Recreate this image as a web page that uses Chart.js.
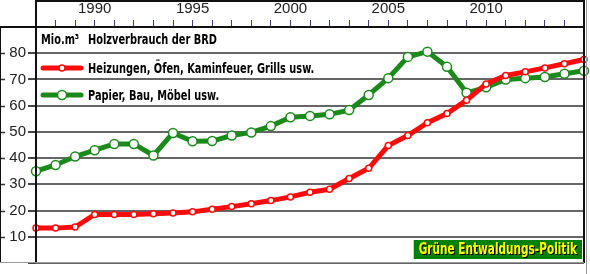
<!DOCTYPE html>
<html>
<head>
<meta charset="utf-8">
<title>Holzverbrauch der BRD</title>
<script src="https://cdn.jsdelivr.net/npm/chart.js@4"></script>
<style>
  html, body { margin: 0; padding: 0; background: #fff; }
  canvas { display: block; }
</style>
</head>
<body>
<canvas id="woodChart" width="590" height="274"></canvas>
<script>
// Years on the top axis
const years = [
  1987, 1988, 1989, 1990, 1991, 1992, 1993, 1994, 1995, 1996,
  1997, 1998, 1999, 2000, 2001, 2002, 2003, 2004, 2005, 2006,
  2007, 2008, 2009, 2010, 2011, 2012, 2013, 2014, 2015
];

// Mio. m³ - heating, stoves, fireplaces, grills
const heating = [
  13.3, 13.3, 13.7, 18.5, 18.5, 18.5, 18.8, 19.1, 19.5, 20.5,
  21.5, 22.6, 23.8, 25.2, 27.0, 28.1, 32.2, 36.1, 44.8, 48.6,
  53.5, 57.0, 62.1, 68.3, 71.5, 72.9, 74.4, 76.0, 77.6
];

// Mio. m³ - paper, construction, furniture
const material = [
  35.0, 37.4, 40.6, 43.0, 45.4, 45.4, 41.0, 49.6, 46.4, 46.5,
  48.6, 49.8, 52.2, 55.6, 56.1, 56.7, 58.3, 64.1, 70.5, 78.6,
  80.6, 74.8, 64.9, 67.0, 70.0, 70.5, 70.9, 72.2, 73.3
];

const labelYears = [1990, 1995, 2000, 2005, 2010];
const valueTicks = [10, 20, 30, 40, 50, 60, 70, 80];

const seriesNames = ["Heizungen, Öfen, Kaminfeuer, Grills usw.", "Papier, Bau, Möbel usw."];
const titleUnit = "Mio.m³";
const titleText = "Holzverbrauch der BRD";
const badgeText = "Grüne Entwaldungs-Politik";

const RED = "#ff0a0a";
const GREEN = "#1a8a1a";
const LEGEND_FONT = "bold 14px 'DejaVu Sans Condensed', 'DejaVu Sans', Arial, sans-serif";
const SQUEEZE = 0.78; // the original lettering is narrower than any installed font

// draw text squeezed horizontally
function narrowText(ctx, text, x, y) {
  ctx.save();
  ctx.translate(x, y);
  ctx.scale(SQUEEZE, 1);
  ctx.fillText(text, 0, 0);
  ctx.restore();
}

/* ================================
   Frame, legend and badge plugin
================================ */
const decorPlugin = {
  id: "decor",
  beforeDatasetsDraw(chart) {
    const { ctx, scales } = chart;
    ctx.save();
    // little dashes at the left edge for each value tick
    ctx.strokeStyle = "#333";
    ctx.lineWidth = 1.5;
    valueTicks.forEach((v) => {
      const y = Math.round(scales.y.getPixelForValue(v)) + 0.5;
      ctx.beginPath();
      ctx.moveTo(0, y);
      ctx.lineTo(5, y);
      ctx.stroke();
    });
    ctx.restore();
  },
  afterDraw(chart) {
    const { ctx, chartArea: a, height } = chart;
    ctx.save();

    // frame
    ctx.strokeStyle = "#111";
    ctx.lineWidth = 2;
    ctx.beginPath();
    ctx.moveTo(a.left, 1); ctx.lineTo(a.right + 1, 1);            // top of year band
    ctx.moveTo(0, a.top); ctx.lineTo(a.right + 1, a.top);         // top of plot
    ctx.moveTo(a.left, 0); ctx.lineTo(a.left, a.bottom);          // y axis
    ctx.moveTo(a.right, 0); ctx.lineTo(a.right, a.bottom);        // right edge
    ctx.stroke();
    ctx.lineWidth = 1;
    ctx.beginPath();
    ctx.moveTo(0.5, a.top); ctx.lineTo(0.5, a.bottom);
    ctx.stroke();
    ctx.strokeStyle = "#999";
    ctx.beginPath();
    ctx.moveTo(a.right + 2.5, 0); ctx.lineTo(a.right + 2.5, height);
    ctx.moveTo(0, a.bottom - 0.5); ctx.lineTo(a.right, a.bottom - 0.5);
    ctx.stroke();

    // legend title
    const textX = a.left + 52;
    ctx.font = LEGEND_FONT;
    ctx.fillStyle = "#000";
    ctx.textBaseline = "middle";
    narrowText(ctx, titleUnit, a.left + 5, a.top + 13);
    narrowText(ctx, titleText, textX, a.top + 13);

    // legend entries
    chart.data.datasets.forEach((ds, i) => {
      const y = a.top + 41 + i * 27;
      ctx.strokeStyle = ds.borderColor;
      ctx.lineWidth = 5;
      ctx.lineCap = "round";
      ctx.beginPath();
      ctx.moveTo(a.left + 7, y);
      ctx.lineTo(a.left + 45, y);
      ctx.stroke();
      ctx.lineCap = "butt";
      ctx.beginPath();
      ctx.arc(a.left + 26, y, ds.pointRadius, 0, Math.PI * 2);
      ctx.fillStyle = "#fff";
      ctx.fill();
      ctx.lineWidth = ds.pointBorderWidth;
      ctx.stroke();
      ctx.fillStyle = "#000";
      narrowText(ctx, ds.label, textX, y + 1);
    });

    // badge bottom right
    ctx.font = "bold 15px 'DejaVu Sans Condensed', 'DejaVu Sans', Arial, sans-serif";
    const bw = ctx.measureText(badgeText).width * SQUEEZE + 10;
    const bx = a.right - 2 - bw;
    const by = a.bottom - 23;
    ctx.fillStyle = "#008000";
    ctx.fillRect(bx, by, bw, 19);
    ctx.textBaseline = "middle";
    ctx.fillStyle = "#000";
    narrowText(ctx, badgeText, bx + 6, by + 11);
    ctx.fillStyle = "#ffff00";
    narrowText(ctx, badgeText, bx + 5, by + 10);

    ctx.restore();
  },
};

/* ================================
   Chart
================================ */
const ctx = document.getElementById("woodChart").getContext("2d");
new Chart(ctx, {
  type: "line",
  data: {
    labels: years,
    datasets: [
      {
        label: seriesNames[0],
        data: heating,
        borderColor: RED,
        borderWidth: 5,
        pointRadius: 3,
        pointBorderWidth: 1.5,
        pointBackgroundColor: "#fff",
        pointBorderColor: RED,
        tension: 0,
      },
      {
        label: seriesNames[1],
        data: material,
        borderColor: GREEN,
        borderWidth: 5,
        pointRadius: 4.5,
        pointBorderWidth: 1.5,
        pointBackgroundColor: "#fff",
        pointBorderColor: GREEN,
        tension: 0,
      },
    ],
  },
  options: {
    responsive: false,
    animation: false,
    devicePixelRatio: 1,
    layout: { padding: { left: 0, top: 0, right: 4, bottom: 1 } },
    plugins: {
      legend: { display: false },
      tooltip: { enabled: false },
    },
    scales: {
      x: {
        type: "category",
        position: "top",
        offset: false,
        afterFit: (scale) => { scale.height = 27; },
        border: { display: false },
        grid: {
          drawOnChartArea: false,
          drawTicks: true,
          tickLength: 7,
          color: "#3c3c8c",
          lineWidth: 1,
        },
        ticks: {
          autoSkip: false,
          maxRotation: 0,
          padding: 2,
          color: "#222",
          font: { family: "'Liberation Sans', Arial, sans-serif", size: 15 },
          callback(value) {
            const yr = this.getLabelForValue(value);
            return labelYears.includes(yr) ? String(yr) : "";
          },
        },
      },
      y: {
        min: 0,
        max: 90,
        afterFit: (scale) => { scale.width = 36; },
        border: { display: false },
        grid: {
          color: "#666",
          lineWidth: 2,
          tickLength: 8,
          tickColor: "#444",
        },
        ticks: {
          stepSize: 10,
          padding: 2,
          color: "#222",
          font: { family: "'Liberation Sans', Arial, sans-serif", size: 15 },
          callback: (v) => (valueTicks.includes(v) ? String(v) : ""),
        },
      },
    },
  },
  plugins: [decorPlugin],
});
</script>
</body>
</html>
